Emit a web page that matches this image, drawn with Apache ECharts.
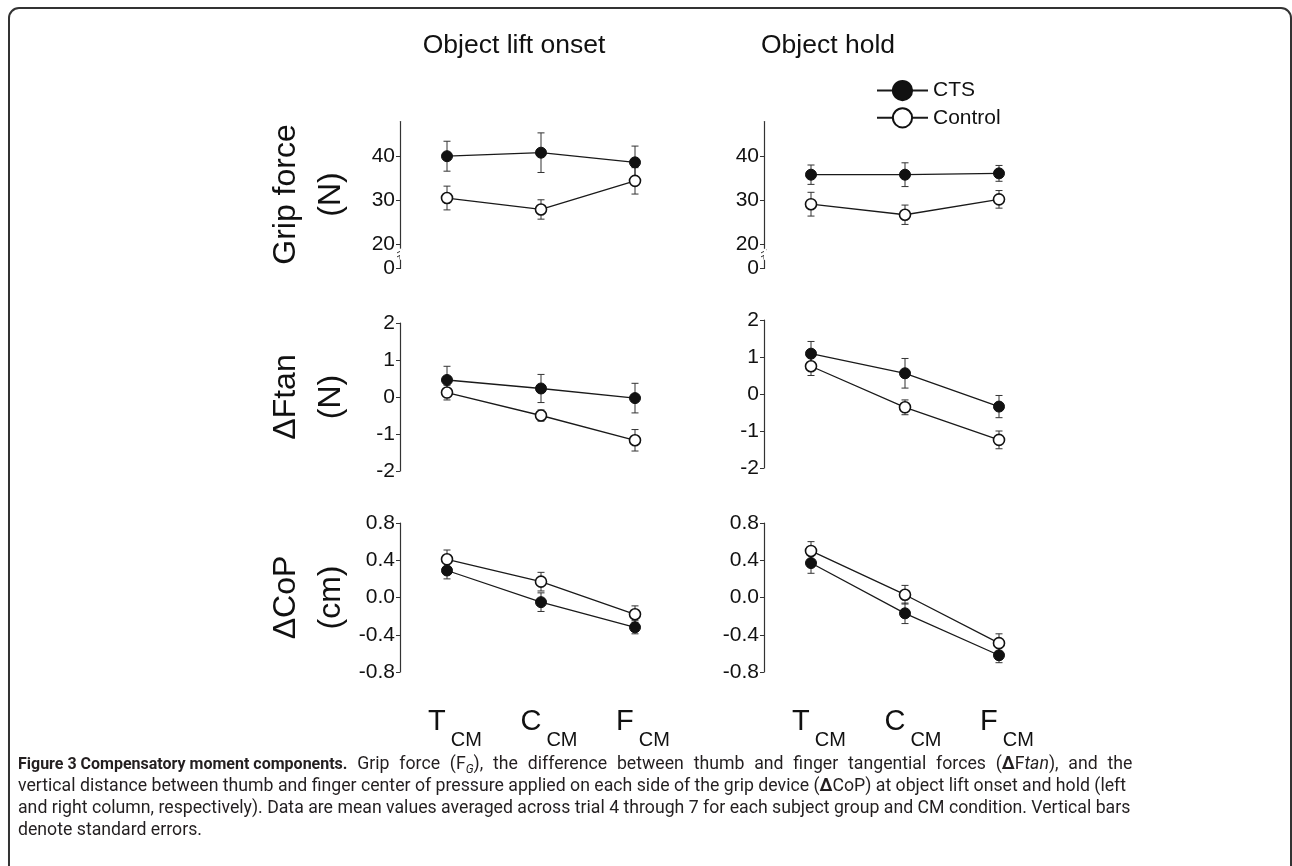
<!DOCTYPE html>
<html><head><meta charset="utf-8">
<script src="https://cdn.jsdelivr.net/npm/echarts@6/dist/echarts.min.js"></script>
<style>html,body{margin:0;padding:0;background:#fff}#c{width:1292px;height:866px}</style>
</head><body><div id="c"></div>
<script>
// ---------- data ----------
const categories = ['T', 'C', 'F'];
const categorySub = 'CM';
const seriesNames = ['CTS', 'Control'];
const columnTitles = ['Object lift onset', 'Object hold'];

const liftGripCTS = [40.0, 40.8, 38.6];
const liftGripCTSse = [3.4, 4.5, 3.7];
const liftGripCtrl = [30.5, 27.9, 34.4];
const liftGripCtrlSe = [2.7, 2.2, 3.0];
const holdGripCTS = [35.8, 35.8, 36.1];
const holdGripCTSse = [2.2, 2.7, 1.8];
const holdGripCtrl = [29.1, 26.7, 30.2];
const holdGripCtrlSe = [2.7, 2.2, 2.0];

const liftFtanCTS = [0.46, 0.23, -0.03];
const liftFtanCTSse = [0.37, 0.38, 0.40];
const liftFtanCtrl = [0.12, -0.50, -1.17];
const liftFtanCtrlSe = [0.20, 0.15, 0.29];
const holdFtanCTS = [1.09, 0.56, -0.34];
const holdFtanCTSse = [0.33, 0.40, 0.30];
const holdFtanCtrl = [0.75, -0.36, -1.24];
const holdFtanCtrlSe = [0.25, 0.20, 0.24];

const liftCopCTS = [0.29, -0.05, -0.32];
const liftCopCTSse = [0.09, 0.10, 0.07];
const liftCopCtrl = [0.41, 0.17, -0.18];
const liftCopCtrlSe = [0.10, 0.10, 0.09];
const holdCopCTS = [0.37, -0.17, -0.62];
const holdCopCTSse = [0.11, 0.11, 0.08];
const holdCopCtrl = [0.50, 0.03, -0.49];
const holdCopCtrlSe = [0.10, 0.10, 0.10];

const gripTicks = [0, 20, 30, 40];
const gripBreak = {start: 2, end: 19, gap: 2.4};
const ftanTicks = [-2, -1, 0, 1, 2];
const copTicks = [-0.8, -0.4, 0, 0.4, 0.8];
const rowNames = ['Grip force\n(N)', '\u0394Ftan\n(N)', '\u0394CoP\n(cm)'];

const captionBold = 'Figure 3 Compensatory moment components.';
const captionLine1 = ' Grip force (F{sub|G}), the difference between thumb and finger tangential forces ({bd|\u0394}F{i|tan}), and the';
const captionRest = [
  'vertical distance between thumb and finger center of pressure applied on each side of the grip device ({bd|\u0394}CoP) at object lift onset and hold (left',
  'and right column, respectively). Data are mean values averaged across trial 4 through 7 for each subject group and CM condition. Vertical bars',
  'denote standard errors.'
];

// ---------- layout ----------
const FONT = 'Liberation Sans, Arial, Helvetica, sans-serif';
const CAPFONT = 'Roboto';
const CAPSIZE = 17.7;
const INK = '#111';
const panels = [
  {left: 400, top: 121, height: 147, row: 0, cts: liftGripCTS, ctsSe: liftGripCTSse, ctrl: liftGripCtrl, ctrlSe: liftGripCtrlSe},
  {left: 764, top: 121, height: 147, row: 0, cts: holdGripCTS, ctsSe: holdGripCTSse, ctrl: holdGripCtrl, ctrlSe: holdGripCtrlSe},
  {left: 400, top: 323, height: 148, row: 1, cts: liftFtanCTS, ctsSe: liftFtanCTSse, ctrl: liftFtanCtrl, ctrlSe: liftFtanCtrlSe},
  {left: 764, top: 320, height: 148, row: 1, cts: holdFtanCTS, ctsSe: holdFtanCTSse, ctrl: holdFtanCtrl, ctrlSe: holdFtanCtrlSe},
  {left: 400, top: 523, height: 149, row: 2, cts: liftCopCTS, ctsSe: liftCopCTSse, ctrl: liftCopCtrl, ctrlSe: liftCopCtrlSe},
  {left: 764, top: 523, height: 149, row: 2, cts: holdCopCTS, ctsSe: holdCopCTSse, ctrl: holdCopCtrl, ctrlSe: holdCopCtrlSe}
];

function errRender(params, api) {
  const x = api.value(0), y = api.value(1), e = api.value(2);
  const t = api.coord([x, y + e]);
  const b = api.coord([x, y - e]);
  const hw = 3.5;
  const st = {stroke: '#333', lineWidth: 1};
  return {type: 'group', children: [
    {type: 'line', shape: {x1: t[0], y1: t[1], x2: b[0], y2: b[1]}, style: st},
    {type: 'line', shape: {x1: t[0] - hw, y1: t[1], x2: t[0] + hw, y2: t[1]}, style: st},
    {type: 'line', shape: {x1: b[0] - hw, y1: b[1], x2: b[0] + hw, y2: b[1]}, style: st}
  ]};
}

const grids = [], xAxes = [], yAxes = [], series = [];
panels.forEach((p, i) => {
  grids.push({left: p.left, top: p.top, width: 282, height: p.height, outerBoundsMode: 'none'});
  const bottom = p.row === 2;
  xAxes.push({
    type: 'category', gridIndex: i, data: categories, boundaryGap: true,
    axisLine: {show: false}, axisTick: {show: false}, splitLine: {show: false},
    axisLabel: {
      show: bottom, interval: 0, margin: 35,
      formatter: v => '{m|' + v + '}{s|' + categorySub + '}',
      rich: {
        m: {fontSize: 29, lineHeight: 30, verticalAlign: 'top', padding: [0, 0, 0, 16], color: INK, fontFamily: FONT},
        s: {fontSize: 20, lineHeight: 20, verticalAlign: 'top', padding: [23, 0, 0, 5], color: INK, fontFamily: FONT}
      }
    }
  });
  const leftCol = i % 2 === 0;
  const base = {
    type: 'value', gridIndex: i,
    name: leftCol ? rowNames[p.row] : '',
    nameLocation: 'middle', nameRotate: 90, nameGap: 46, nameMoveOverlap: false,
    nameTextStyle: {fontSize: 32, lineHeight: 45, color: INK, fontFamily: FONT},
    axisLine: {show: true, onZero: false, lineStyle: {color: '#333', width: 1.2}},
    splitLine: {show: false},
    axisTick: {show: true, inside: false, length: 4, lineStyle: {color: '#333', width: 1}},
    axisLabel: {show: true, margin: 5, fontSize: 21, color: INK, fontFamily: FONT}
  };
  if (p.row === 0) {
    Object.assign(base, {min: 0, max: 48, interval: 10,
      breaks: [gripBreak],
      breakArea: {show: true, itemStyle: {color: '#fff', borderColor: 'rgba(0,0,0,0)', borderWidth: 0, opacity: 1}, expandOnClick: false}
    });
    base.axisTick.customValues = gripTicks;
    base.axisLabel.customValues = gripTicks;
    base.axisLabel.formatter = v => String(v);
  } else if (p.row === 1) {
    Object.assign(base, {min: -2, max: 2, interval: 1});
    base.axisTick.customValues = ftanTicks;
    base.axisLabel.customValues = ftanTicks;
    base.axisLabel.formatter = v => String(v);
  } else {
    Object.assign(base, {min: -0.8, max: 0.8, interval: 0.4});
    base.axisTick.customValues = copTicks;
    base.axisLabel.customValues = copTicks;
    base.axisLabel.formatter = v => Number(v).toFixed(1);
  }
  yAxes.push(base);

  const groups = [
    {name: seriesNames[0], vals: p.cts, se: p.ctsSe, fill: '#111', bw: 1},
    {name: seriesNames[1], vals: p.ctrl, se: p.ctrlSe, fill: '#fff', bw: 1.6}
  ];
  groups.forEach(g => {
    series.push({
      type: 'custom', name: g.name + ' SE', xAxisIndex: i, yAxisIndex: i,
      renderItem: errRender, encode: {x: 0, y: 1}, clip: false, z: 1, silent: true,
      data: g.vals.map((v, k) => [k, v, g.se[k]])
    });
  });
  groups.forEach(g => {
    series.push({
      type: 'line', name: g.name, xAxisIndex: i, yAxisIndex: i, data: g.vals,
      symbol: 'circle', symbolSize: 11, showSymbol: true, z: 3,
      lineStyle: {color: '#1a1a1a', width: 1.3},
      itemStyle: {color: g.fill, borderColor: '#111', borderWidth: g.bw},
      emphasis: {disabled: true}, silent: true
    });
  });
});

const capStyle = (extra) => Object.assign({fontSize: CAPSIZE, fontFamily: CAPFONT, lineHeight: 22, fill: '#231f20'}, extra);
// the printed caption is justified: widen the word gaps of the first line a little
const justifiedLine1 = '{b|' + captionBold + '}' + captionLine1.replace(/ /g, ' \u2009\u200A');
const captionText = [justifiedLine1].concat(captionRest).join('\n');

const chart = echarts.init(document.getElementById('c'), null, {renderer: 'canvas'});
chart.setOption({
  animation: false,
  backgroundColor: '#fff',
  grid: grids, xAxis: xAxes, yAxis: yAxes, series: series,
  legend: {
    data: seriesNames, orient: 'vertical', left: 876, top: 80, padding: 0,
    itemWidth: 51, itemHeight: 24, itemGap: 6, selectedMode: false,
    textStyle: {fontSize: 21, color: INK, fontFamily: FONT}
  },
  graphic: [
    {id: 'frame', type: 'rect', shape: {x: 9, y: 8, width: 1282, height: 1000, r: 10}, style: {fill: 'none', stroke: '#333', lineWidth: 2}, silent: true},
    {id: 't0', type: 'text', x: 514, y: 46, style: {text: columnTitles[0], fill: INK, fontSize: 26.5, fontFamily: FONT, align: 'center', verticalAlign: 'middle', textAlign: 'center', textVerticalAlign: 'middle'}},
    {id: 't1', type: 'text', x: 828, y: 46, style: {text: columnTitles[1], fill: INK, fontSize: 26.5, fontFamily: FONT, align: 'center', verticalAlign: 'middle', textAlign: 'center', textVerticalAlign: 'middle'}},
    {id: 'cap', type: 'text', x: 18, y: 754, style: Object.assign(capStyle({
      text: captionText,
      verticalAlign: 'top', textVerticalAlign: 'top'
    }), {
      rich: {
        b: capStyle({fontSize: 16, fontWeight: 'bold'}),
        bd: capStyle({fontWeight: 'bold'}),
        i: capStyle({fontStyle: 'italic'}),
        sub: capStyle({fontSize: 12, fontStyle: 'italic', lineHeight: 14, verticalAlign: 'bottom'})
      }
    })}
  ]
});

// small "break" marks on the two grip-force axes, placed through the axis scale
const breakMarks = [];
[0, 1].forEach(i => {
  const yA = chart.convertToPixel({yAxisIndex: i}, gripBreak.start);
  const yB = chart.convertToPixel({yAxisIndex: i}, gripBreak.end);
  const ym = (yA + yB) / 2;
  const x = panels[i].left;
  const st = {stroke: '#333', lineWidth: 1, fill: 'none'};
  breakMarks.push(
    {id: 'bk' + i + 'a', type: 'line', shape: {x1: x - 3, y1: ym - 1, x2: x + 3, y2: ym - 4}, style: st, silent: true},
    {id: 'bk' + i + 'b', type: 'line', shape: {x1: x - 3, y1: ym + 3, x2: x + 3, y2: ym}, style: st, silent: true},
    {id: 'bk' + i + 'c', type: 'line', shape: {x1: x, y1: ym + 1.5, x2: x, y2: yA}, style: st, silent: true}
  );
});
chart.setOption({graphic: breakMarks});
</script></body></html>
